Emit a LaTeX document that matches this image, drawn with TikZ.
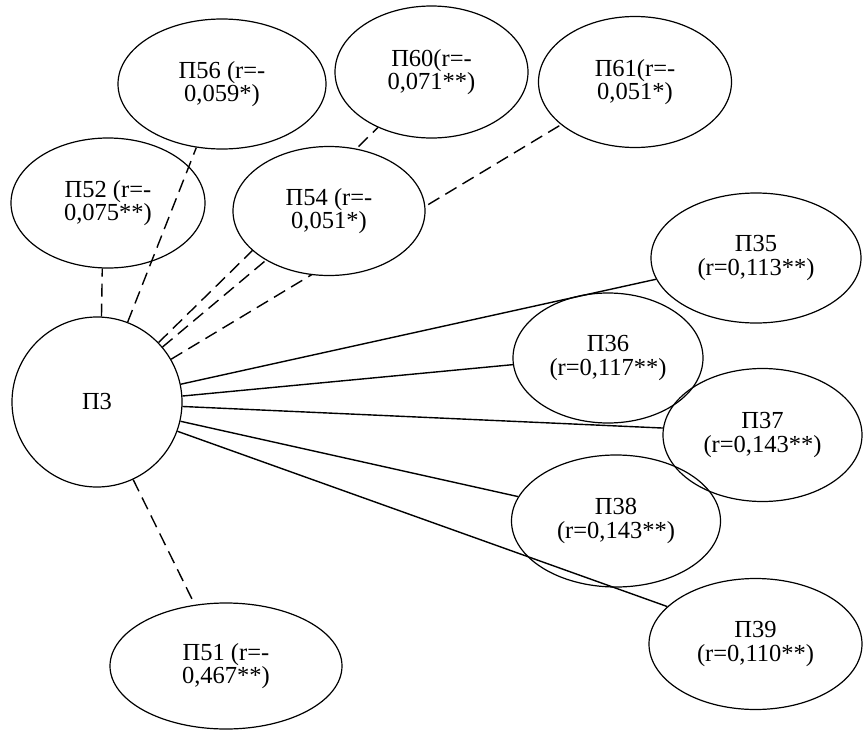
\documentclass[tikz,border=0pt]{standalone}
\usepackage{fontspec}
\setmainfont{Liberation Serif}
\usetikzlibrary{shapes.geometric,backgrounds}

\begin{document}
\begin{tikzpicture}[
  x=1pt, y=-1pt,
  font=\fontsize{24.5}{23.5}\selectfont,
  factor/.style={ellipse, draw, line width=1.2pt, inner sep=0pt, align=center},
  poslink/.style={line width=1.4pt},
  neglink/.style={line width=1.4pt, dash pattern=on 13pt off 7pt}
]
\useasboundingbox (0,0) rectangle (863,731);
\node[factor, circle, minimum size=170pt] (p3) at (97,402) {П3};
\node[factor, minimum width=194pt, minimum height=130pt] (p52) at (108,203) {П52 (r=-\\0,075**)};
\node[factor, minimum width=208pt, minimum height=130pt] (p56) at (222,84) {П56 (r=-\\0,059*)};
\node[factor, fill=white, minimum width=192pt, minimum height=129pt] (p54) at (329,211) {П54 (r=-\\0,051*)};
\node[factor, minimum width=193pt, minimum height=132pt] (p60) at (431.5,72) {П60(r=-\\0,071**)};
\node[factor, minimum width=193pt, minimum height=131pt] (p61) at (635,82) {П61(r=-\\0,051*)};
\node[factor, minimum width=210pt, minimum height=130pt] (p35) at (756,258) {П35\\(r=0,113**)};
\node[factor, minimum width=190pt, minimum height=130pt] (p36) at (608,358) {П36\\(r=0,117**)};
\node[factor, minimum width=199pt, minimum height=133pt] (p37) at (762.5,435) {П37\\(r=0,143**)};
\node[factor, minimum width=209pt, minimum height=132pt] (p38) at (616,521) {П38\\(r=0,143**)};
\node[factor, minimum width=213pt, minimum height=131pt] (p39) at (755.5,644) {П39\\(r=0,110**)};
\node[factor, minimum width=232pt, minimum height=126pt] (p51) at (226,666) {П51 (r=-\\0,467**)};
\begin{scope}[on background layer]
% negative links
\draw[neglink] (p3.87) -- (p52.265);
\draw[neglink] (p3.69) -- (p56.248);
\draw[neglink] (p3.44) -- (p60.226);
\draw[neglink] (p3.40) -- (p54.218);
\draw[neglink] (p3.30) -- (p61.210.5);
\draw[neglink] (p3.-65) -- (p51.117);
% positive links
\draw[poslink] (p3.12.5) -- (p35.192);
\draw[poslink] (p3.4.6) -- (p36.184);
\draw[poslink] (p3.-3.3) -- (p37.176.5);
\draw[poslink] (p3.-13.9) -- (p38.166.8);
\draw[poslink] (p3.-20.5) -- (p39.157.9);
\end{scope}
\end{tikzpicture}
\end{document}
